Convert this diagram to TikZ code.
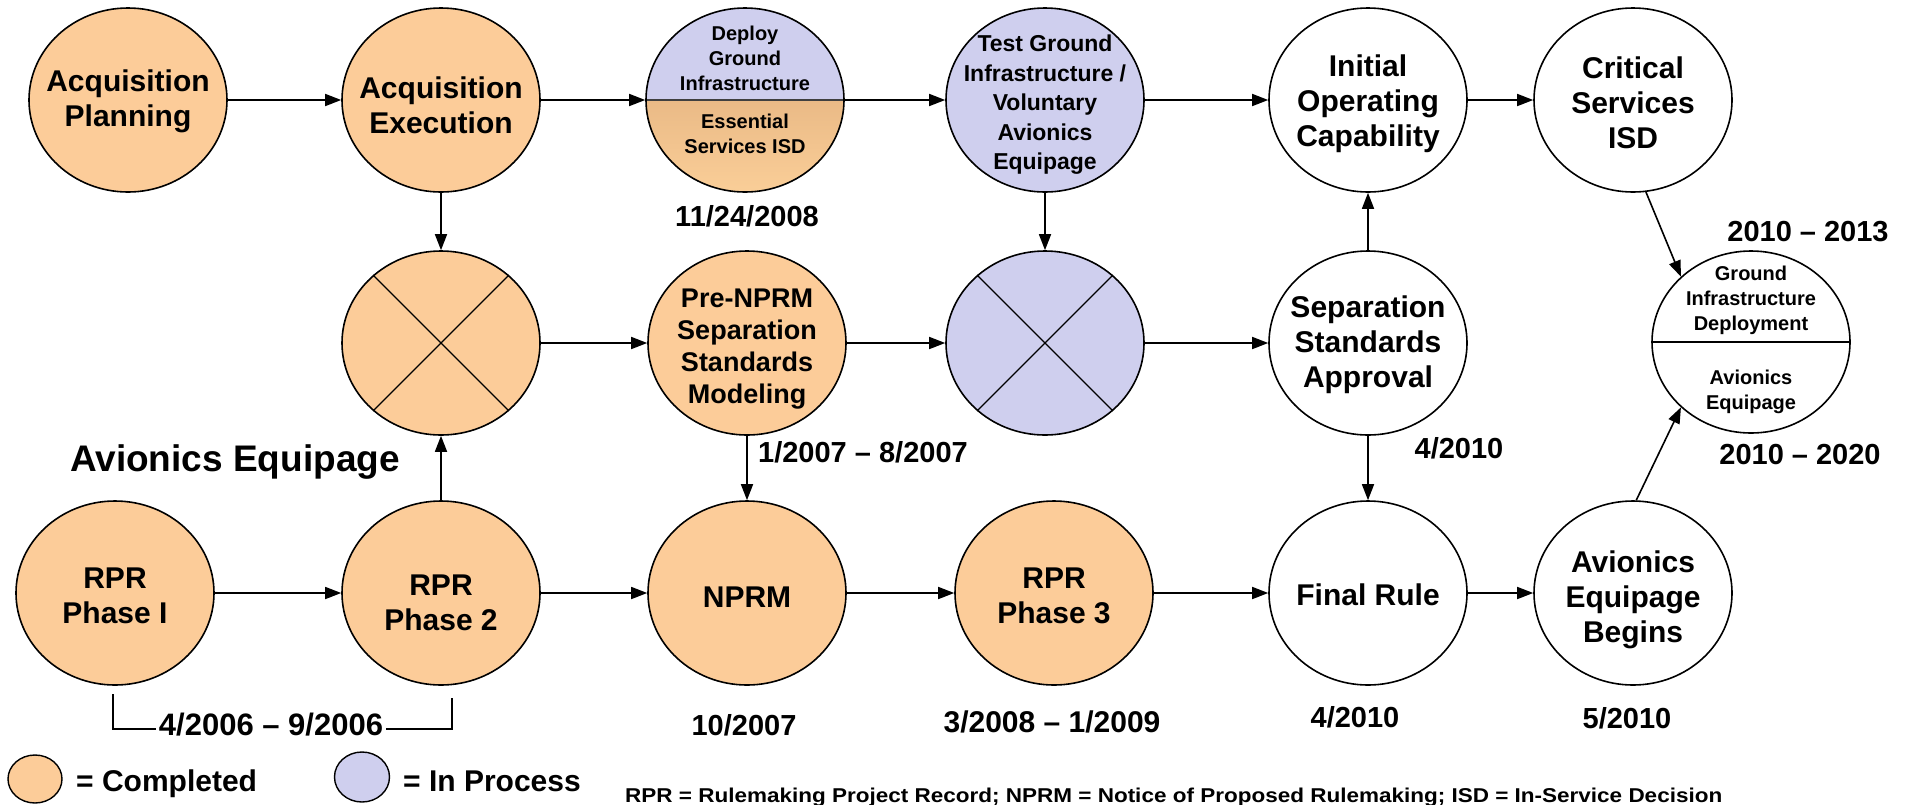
\documentclass[tikz,border=0pt]{standalone}
\usepackage{fontspec}
\setmainfont{Liberation Sans}
\usetikzlibrary{shapes.geometric,arrows.meta}
\definecolor{compl}{RGB}{252,204,153}
\definecolor{inpr}{RGB}{207,207,238}
\definecolor{deptop}{RGB}{218,166,116}
\definecolor{depbot}{RGB}{250,206,152}
\begin{document}
\begin{tikzpicture}[x=1pt,y=-1pt,
  ell/.style={ellipse, draw=black, line width=1.6pt, minimum width=198pt, minimum height=184pt, inner sep=0pt},
  done/.style={ell, fill=compl},
  inproc/.style={ell, fill=inpr},
  todo/.style={ell, fill=white},
  txt/.style={align=center, inner sep=0pt, font=\bfseries\fontsize{30}{35}\selectfont},
  lbl/.style={inner sep=0pt, font=\bfseries\fontsize{29}{34}\selectfont},
  arr/.style={-{Triangle[length=16pt,width=12pt]}, line width=1.6pt},
  thin/.style={line width=1.3pt},
]
\fill[white] (0,0) rectangle (1906,804);
\useasboundingbox (0,0) rectangle (1906,804);

% row 1
\node[done] (ap) at (128,100) {};
\node[done] (ae) at (441,100) {};
\node[ell, fill=inpr, path picture={
  \shade[top color=deptop, bottom color=depbot] (path picture bounding box.west) rectangle (path picture bounding box.south east);
  \draw[line width=1.8pt, black!75] (path picture bounding box.west) -- (path picture bounding box.east);
}] (dep) at (745,100) {};
\node[inproc] (tg) at (1045,100) {};
\node[todo] (ioc) at (1368,100) {};
\node[todo] (cs) at (1633,100) {};

% row 2
\node[done] (x1) at (441,343) {};
\node[done] (pre) at (747,343) {};
\node[inproc] (x2) at (1045,343) {};
\node[todo] (ssa) at (1368,343) {};
\node[todo, minimum height=182pt, path picture={
  \draw[line width=1.6pt] (path picture bounding box.west) -- (path picture bounding box.east);
}] (gid) at (1751,342) {};

% row 3
\node[done] (r1) at (115,593) {};
\node[done] (r2) at (441,593) {};
\node[done] (nprm) at (747,593) {};
\node[done] (r3) at (1054,593) {};
\node[todo] (fr) at (1368,593) {};
\node[todo] (aeb) at (1633,593) {};

% crosses
\draw[thin] (x1.45) -- (x1.225);
\draw[thin] (x1.135) -- (x1.315);
\draw[thin] (x2.45) -- (x2.225);
\draw[thin] (x2.135) -- (x2.315);

% node texts
\node[txt] (tap) at (128,101) {Acquisition\\Planning};
\node[txt] (tae) at (441,105) {Acquisition\\Execution};
\node[txt, font=\bfseries\fontsize{20}{25}\selectfont] (tdep1) at (745,58) {Deploy\\Ground\\Infrastructure};
\node[txt, font=\bfseries\fontsize{20}{25}\selectfont] (tdep2) at (745,134) {Essential\\Services ISD};
\node[txt, font=\bfseries\fontsize{23}{29.5}\selectfont] (ttg) at (1045,105) {Test Ground\\Infrastructure /\\Voluntary\\Avionics\\Equipage};
\node[txt] (tioc) at (1368,104) {Initial\\Operating\\Capability};
\node[txt] (tcs) at (1633,103) {Critical\\Services\\ISD};
\node[txt, font=\bfseries\fontsize{27}{32}\selectfont] (tpre) at (747,349) {Pre-NPRM\\Separation\\Standards\\Modeling};
\node[txt] (tssa) at (1368,345) {Separation\\Standards\\Approval};
\node[txt, font=\bfseries\fontsize{20}{25}\selectfont] (tgid1) at (1751,300) {Ground\\Infrastructure\\Deployment};
\node[txt, font=\bfseries\fontsize{20}{25}\selectfont] (tgid2) at (1751,392) {Avionics\\Equipage};
\node[txt] (tr1) at (115,596) {RPR\\Phase I};
\node[txt] (tr2) at (441,603) {RPR\\Phase 2};
\node[txt] (tnprm) at (747,597) {NPRM};
\node[txt] (tr3) at (1054,596) {RPR\\Phase 3};
\node[txt] (tfr) at (1368,595) {Final Rule};
\node[txt] (taeb) at (1633,600) {Avionics\\Equipage\\Begins};

% arrows
\draw[arr] (ap) -- (ae);
\draw[arr] (ae) -- (dep);
\draw[arr] (dep) -- (tg);
\draw[arr] (tg) -- (ioc);
\draw[arr] (ioc) -- (cs);
\draw[arr] (cs.-82) -- (gid.137);
\draw[arr] (ae) -- (x1);
\draw[arr] (x1) -- (pre);
\draw[arr] (pre) -- (x2);
\draw[arr] (x2) -- (ssa);
\draw[arr] (tg) -- (x2);
\draw[arr] (ssa) -- (ioc);
\draw[arr] (ssa) -- (fr);
\draw[arr] (pre) -- (nprm);
\draw[arr] (r2) -- (x1);
\draw[arr] (r1) -- (r2);
\draw[arr] (r2) -- (nprm);
\draw[arr] (nprm) -- (r3);
\draw[arr] (r3) -- (fr);
\draw[arr] (fr) -- (aeb);
\draw[arr] (aeb.88) -- (gid.223);

% labels
\node[lbl] (l1) at (747,216) {11/24/2008};
\node[lbl] (l2) at (863,452) {1/2007 – 8/2007};
\node[lbl] (l3) at (1459,448) {4/2010};
\node[lbl] (l4) at (1808,232) {2010 – 2013};
\node[lbl] (l5) at (1800,455) {2010 – 2020};
\node[lbl, font=\bfseries\fontsize{31}{36}\selectfont] (l6) at (271,725) {4/2006 – 9/2006};
\node[lbl] (l7) at (744,725) {10/2007};
\node[lbl, font=\bfseries\fontsize{30}{35}\selectfont] (l8) at (1052,722) {3/2008 – 1/2009};
\node[lbl] (l9) at (1355,717) {4/2010};
\node[lbl] (l10) at (1627,718) {5/2010};
\node[inner sep=0pt, font=\bfseries\fontsize{37}{42}\selectfont] (avl) at (235,462) {Avionics Equipage};

% bracket
\coordinate (b1) at (113,694);
\coordinate (b2) at (113,729);
\coordinate (b3) at (452,698);
\coordinate (b4) at (452,729);
\draw[thin] (b1) -- (b2) -- ([xshift=-3pt]b2 -| l6.west);
\draw[thin] (b3) -- (b4) -- ([xshift=3pt]b4 -| l6.east);

% legend
\node[ell, fill=compl, line width=1.4pt, minimum width=54pt, minimum height=48pt] (lc) at (35,779) {};
\node[lbl, anchor=base west, font=\bfseries\fontsize{30}{35}\selectfont] (lct) at (76,791) {= Completed};
\node[ell, fill=inpr, line width=1.4pt, minimum width=55pt, minimum height=50pt] (li) at (362,777) {};
\node[lbl, anchor=base west, font=\bfseries\fontsize{30}{35}\selectfont] (lit) at (403,791) {= In Process};

% footnote
\node[inner sep=0pt, anchor=base west] (fn) at (625,802) {\resizebox{1097pt}{\height}{\bfseries\fontsize{20}{24}\selectfont RPR = Rulemaking Project Record; NPRM = Notice of Proposed Rulemaking; ISD = In-Service Decision}};
\end{tikzpicture}
\end{document}
